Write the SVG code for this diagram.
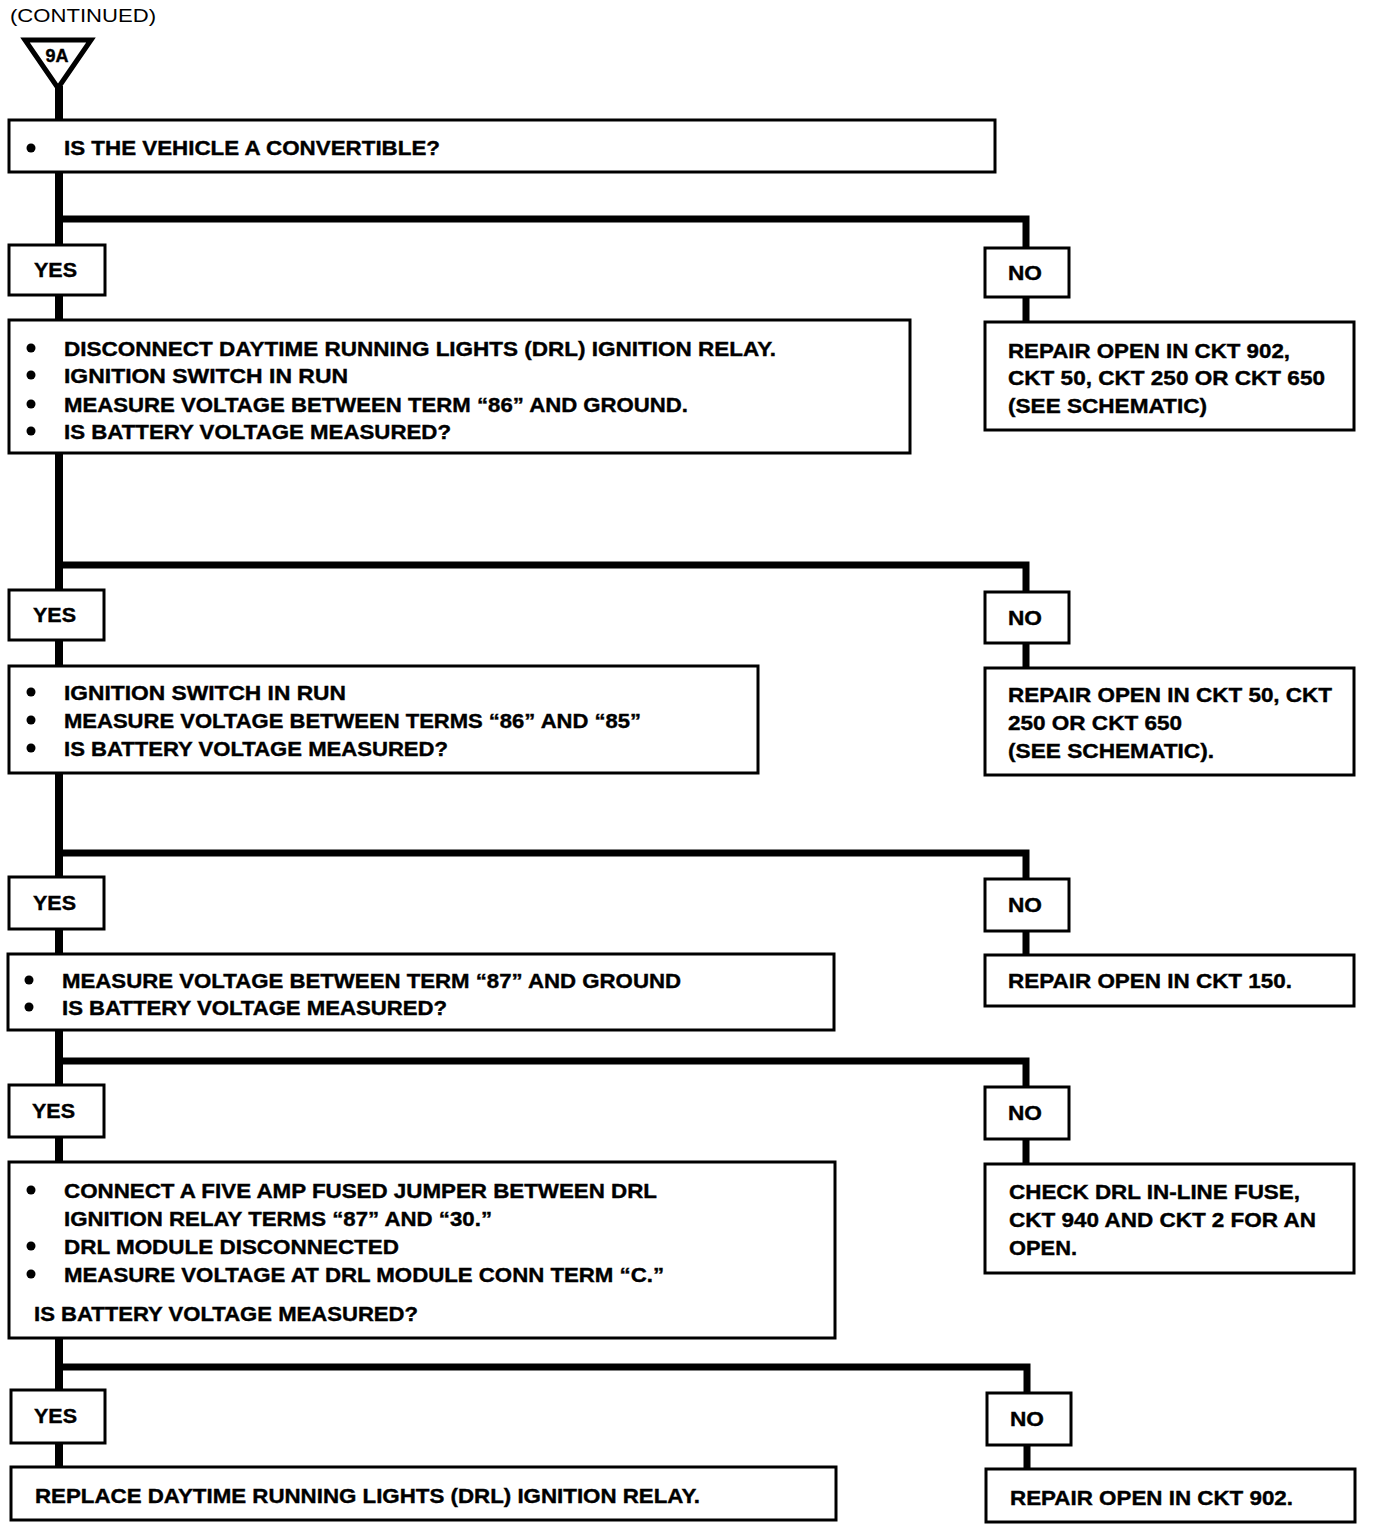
<svg xmlns="http://www.w3.org/2000/svg" width="1376" height="1530" viewBox="0 0 1376 1530">
<style>
  .bx{fill:#fff;stroke:#000;stroke-width:3}
  .ln{fill:none;stroke:#000;stroke-width:7;stroke-linejoin:miter}
  .t{font-family:"Liberation Sans",Arial,sans-serif;font-weight:bold;font-size:21px;fill:#000;stroke:#000;stroke-width:0.4}
  .c{font-family:"Liberation Sans",Arial,sans-serif;font-size:19px;fill:#000}
  .b{fill:#000}
</style>
<rect width="1376" height="1530" fill="#fff"/>
<text class="c" x="10" y="22" textLength="146" lengthAdjust="spacingAndGlyphs">(CONTINUED)</text>
<g id="connectors">
  <path class="ln" d="M59,86 V1467" style="stroke-width:8"/>
  <path class="ln" d="M59,219 H1026 V322"/>
  <path class="ln" d="M59,565 H1026 V668"/>
  <path class="ln" d="M59,853 H1026 V955"/>
  <path class="ln" d="M59,1061 H1026 V1164"/>
  <path class="ln" d="M59,1367 H1027 V1469"/>
</g>
<g id="start">
  <polygon points="25,40 91,40 58,88" fill="#fff" stroke="#000" stroke-width="5" stroke-linejoin="miter"/>
  <text class="t" x="57" y="62" text-anchor="middle" style="font-size:18px">9A</text>
</g>
<g id="q1">
  <rect class="bx" x="9" y="120" width="986" height="52"/>
  <circle class="b" cx="31" cy="148" r="4.5"/>
  <text class="t" x="64" y="155" textLength="376" lengthAdjust="spacingAndGlyphs">IS THE VEHICLE A CONVERTIBLE?</text>
</g>
<g id="yes1">
  <rect class="bx" x="9" y="245" width="96" height="50"/>
  <text class="t" x="34" y="277" textLength="43" lengthAdjust="spacingAndGlyphs">YES</text>
</g>
<g id="no1">
  <rect class="bx" x="985" y="248" width="84" height="49"/>
  <text class="t" x="1008" y="280" textLength="34" lengthAdjust="spacingAndGlyphs">NO</text>
</g>
<g id="q2">
  <rect class="bx" x="9" y="320" width="901" height="133"/>
  <circle class="b" cx="31" cy="348" r="4.5"/>
  <circle class="b" cx="31" cy="375" r="4.5"/>
  <circle class="b" cx="31" cy="404" r="4.5"/>
  <circle class="b" cx="31" cy="431" r="4.5"/>
  <text class="t" x="64" y="356" textLength="712" lengthAdjust="spacingAndGlyphs">DISCONNECT DAYTIME RUNNING LIGHTS (DRL) IGNITION RELAY.</text>
  <text class="t" x="64" y="383" textLength="284" lengthAdjust="spacingAndGlyphs">IGNITION SWITCH IN RUN</text>
  <text class="t" x="64" y="412" textLength="624" lengthAdjust="spacingAndGlyphs">MEASURE VOLTAGE BETWEEN TERM “86” AND GROUND.</text>
  <text class="t" x="64" y="439" textLength="387" lengthAdjust="spacingAndGlyphs">IS BATTERY VOLTAGE MEASURED?</text>
</g>
<g id="r1">
  <rect class="bx" x="985" y="322" width="369" height="108"/>
  <text class="t" x="1008" y="358" textLength="282" lengthAdjust="spacingAndGlyphs">REPAIR OPEN IN CKT 902,</text>
  <text class="t" x="1008" y="385" textLength="317" lengthAdjust="spacingAndGlyphs">CKT 50, CKT 250 OR CKT 650</text>
  <text class="t" x="1008" y="413" textLength="199" lengthAdjust="spacingAndGlyphs">(SEE SCHEMATIC)</text>
</g>
<g id="yes2">
  <rect class="bx" x="9" y="590" width="95" height="50"/>
  <text class="t" x="33" y="622" textLength="43" lengthAdjust="spacingAndGlyphs">YES</text>
</g>
<g id="no2">
  <rect class="bx" x="985" y="592" width="84" height="51"/>
  <text class="t" x="1008" y="625" textLength="34" lengthAdjust="spacingAndGlyphs">NO</text>
</g>
<g id="q3">
  <rect class="bx" x="9" y="666" width="749" height="107"/>
  <circle class="b" cx="31" cy="692" r="4.5"/>
  <circle class="b" cx="31" cy="720" r="4.5"/>
  <circle class="b" cx="31" cy="748" r="4.5"/>
  <text class="t" x="64" y="700" textLength="282" lengthAdjust="spacingAndGlyphs">IGNITION SWITCH IN RUN</text>
  <text class="t" x="64" y="728" textLength="577" lengthAdjust="spacingAndGlyphs">MEASURE VOLTAGE BETWEEN TERMS “86” AND “85”</text>
  <text class="t" x="64" y="756" textLength="384" lengthAdjust="spacingAndGlyphs">IS BATTERY VOLTAGE MEASURED?</text>
</g>
<g id="r2">
  <rect class="bx" x="985" y="668" width="369" height="107"/>
  <text class="t" x="1008" y="702" textLength="324" lengthAdjust="spacingAndGlyphs">REPAIR OPEN IN CKT 50, CKT</text>
  <text class="t" x="1008" y="730" textLength="174" lengthAdjust="spacingAndGlyphs">250 OR CKT 650</text>
  <text class="t" x="1008" y="758" textLength="206" lengthAdjust="spacingAndGlyphs">(SEE SCHEMATIC).</text>
</g>
<g id="yes3">
  <rect class="bx" x="9" y="877" width="95" height="52"/>
  <text class="t" x="33" y="910" textLength="43" lengthAdjust="spacingAndGlyphs">YES</text>
</g>
<g id="no3">
  <rect class="bx" x="985" y="879" width="84" height="52"/>
  <text class="t" x="1008" y="912" textLength="34" lengthAdjust="spacingAndGlyphs">NO</text>
</g>
<g id="q4">
  <rect class="bx" x="8" y="954" width="826" height="76"/>
  <circle class="b" cx="29" cy="980" r="4.5"/>
  <circle class="b" cx="29" cy="1007" r="4.5"/>
  <text class="t" x="62" y="988" textLength="619" lengthAdjust="spacingAndGlyphs">MEASURE VOLTAGE BETWEEN TERM “87” AND GROUND</text>
  <text class="t" x="62" y="1015" textLength="385" lengthAdjust="spacingAndGlyphs">IS BATTERY VOLTAGE MEASURED?</text>
</g>
<g id="r3">
  <rect class="bx" x="985" y="955" width="369" height="51"/>
  <text class="t" x="1008" y="988" textLength="284" lengthAdjust="spacingAndGlyphs">REPAIR OPEN IN CKT 150.</text>
</g>
<g id="yes4">
  <rect class="bx" x="9" y="1085" width="95" height="52"/>
  <text class="t" x="32" y="1118" textLength="43" lengthAdjust="spacingAndGlyphs">YES</text>
</g>
<g id="no4">
  <rect class="bx" x="985" y="1087" width="84" height="52"/>
  <text class="t" x="1008" y="1120" textLength="34" lengthAdjust="spacingAndGlyphs">NO</text>
</g>
<g id="q5">
  <rect class="bx" x="9" y="1162" width="826" height="176"/>
  <circle class="b" cx="31" cy="1190" r="4.5"/>
  <circle class="b" cx="31" cy="1246" r="4.5"/>
  <circle class="b" cx="31" cy="1274" r="4.5"/>
  <text class="t" x="64" y="1198" textLength="593" lengthAdjust="spacingAndGlyphs">CONNECT A FIVE AMP FUSED JUMPER BETWEEN DRL</text>
  <text class="t" x="64" y="1226" textLength="428" lengthAdjust="spacingAndGlyphs">IGNITION RELAY TERMS “87” AND “30.”</text>
  <text class="t" x="64" y="1254" textLength="335" lengthAdjust="spacingAndGlyphs">DRL MODULE DISCONNECTED</text>
  <text class="t" x="64" y="1282" textLength="600" lengthAdjust="spacingAndGlyphs">MEASURE VOLTAGE AT DRL MODULE CONN TERM “C.”</text>
  <text class="t" x="34" y="1321" textLength="384" lengthAdjust="spacingAndGlyphs">IS BATTERY VOLTAGE MEASURED?</text>
</g>
<g id="r4">
  <rect class="bx" x="985" y="1164" width="369" height="109"/>
  <text class="t" x="1009" y="1199" textLength="291" lengthAdjust="spacingAndGlyphs">CHECK DRL IN-LINE FUSE,</text>
  <text class="t" x="1009" y="1227" textLength="307" lengthAdjust="spacingAndGlyphs">CKT 940 AND CKT 2 FOR AN</text>
  <text class="t" x="1009" y="1255" textLength="68" lengthAdjust="spacingAndGlyphs">OPEN.</text>
</g>
<g id="yes5">
  <rect class="bx" x="11" y="1390" width="94" height="53"/>
  <text class="t" x="34" y="1423" textLength="43" lengthAdjust="spacingAndGlyphs">YES</text>
</g>
<g id="no5">
  <rect class="bx" x="987" y="1393" width="84" height="52"/>
  <text class="t" x="1010" y="1426" textLength="34" lengthAdjust="spacingAndGlyphs">NO</text>
</g>
<g id="end1">
  <rect class="bx" x="11" y="1467" width="825" height="53"/>
  <text class="t" x="35" y="1503" textLength="665" lengthAdjust="spacingAndGlyphs">REPLACE DAYTIME RUNNING LIGHTS (DRL) IGNITION RELAY.</text>
</g>
<g id="end2">
  <rect class="bx" x="986" y="1469" width="369" height="53"/>
  <text class="t" x="1010" y="1505" textLength="283" lengthAdjust="spacingAndGlyphs">REPAIR OPEN IN CKT 902.</text>
</g>
</svg>
